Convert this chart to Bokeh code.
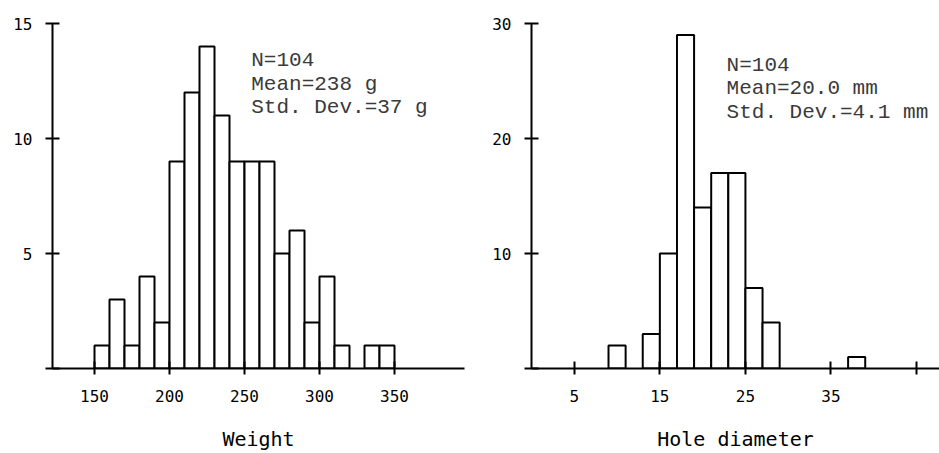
from bokeh.plotting import figure
from bokeh.models import FixedTicker, Range1d, Label
from bokeh.layouts import row
from bokeh.embed import file_html
from bokeh.resources import INLINE

# ---- data ----
weight_bin_left = [150, 160, 170, 180, 190, 200, 210, 220, 230, 240,
                   250, 260, 270, 280, 290, 300, 310, 320, 330, 340]
weight_counts = [1, 3, 1, 4, 2, 9, 12, 14, 11, 9,
                 9, 9, 5, 6, 2, 4, 1, 0, 1, 1]
weight_bin_width = 10
weight_xticks = [150, 200, 250, 300, 350]
weight_yticks = [0, 5, 10, 15]
weight_stats = ["N=104", "Mean=238 g", "Std. Dev.=37 g"]

hole_bin_left = [9, 11, 13, 15, 17, 19, 21, 23, 25, 27, 29, 31, 33, 35, 37]
hole_counts = [2, 0, 3, 10, 29, 14, 17, 17, 7, 4, 0, 0, 0, 0, 1]
hole_bin_width = 2
hole_xticks = [5, 15, 25, 35, 45]
hole_xtick_labels = {45: ""}
hole_yticks = [0, 10, 20, 30]
hole_stats = ["N=104", "Mean=20.0 mm", "Std. Dev.=4.1 mm"]

TICK_FONT = "DejaVu Sans Mono"
ANN_FONT = "Liberation Mono"


def make_hist(bin_left, counts, width, xr, yr, xticks, yticks, xlabel,
              stats, stat_x, stat_ys, fig_w, border_l, border_r, x_over=None):
    p = figure(width=fig_w, height=453, output_backend="svg", toolbar_location=None,
               x_range=Range1d(*xr), y_range=Range1d(*yr),
               min_border_left=border_l, min_border_right=border_r,
               min_border_top=23, min_border_bottom=84)
    p.outline_line_color = None
    p.grid.visible = False
    p.background_fill_color = "white"
    p.border_fill_color = "white"

    lefts = [l for l, c in zip(bin_left, counts) if c > 0]
    tops = [c for c in counts if c > 0]
    rights = [l + width for l in lefts]
    p.quad(left=lefts, right=rights, bottom=0, top=tops,
           fill_color="white", line_color="black", line_width=2)

    ax = p.xaxis[0]
    ax.ticker = FixedTicker(ticks=xticks)
    ax.minor_tick_line_color = None
    ax.major_tick_in = 7
    ax.major_tick_out = 6
    ax.axis_line_width = 2
    ax.major_tick_line_width = 2
    ax.major_label_text_font = TICK_FONT
    ax.major_label_text_font_size = "16px"
    ax.major_label_text_color = "black"
    ax.major_label_standoff = 15
    ax.axis_label = xlabel
    ax.axis_label_text_font = TICK_FONT
    ax.axis_label_text_font_size = "20px"
    ax.axis_label_text_font_style = "normal"
    ax.axis_label_text_color = "black"
    ax.axis_label_standoff = 22
    if x_over:
        ax.major_label_overrides = x_over

    ay = p.yaxis[0]
    ay.ticker = FixedTicker(ticks=yticks)
    ay.minor_tick_line_color = None
    ay.major_tick_in = 7
    ay.major_tick_out = 7
    ay.axis_line_width = 2
    ay.major_tick_line_width = 2
    ay.major_label_text_font = TICK_FONT
    ay.major_label_text_font_size = "16px"
    ay.major_label_text_color = "black"
    ay.major_label_standoff = 13
    ay.major_label_overrides = {0: ""}

    for txt, yv in zip(stats, stat_ys):
        p.add_layout(Label(x=stat_x, y=yv, text=txt, text_font=ANN_FONT,
                           text_font_size="21px", text_color="#3a3a3a",
                           text_baseline="alphabetic", text_align="left"))
    return p


p1 = make_hist(weight_bin_left, weight_counts, weight_bin_width,
               (122, 122 + 412 / 1.5), (0, 15), weight_xticks, weight_yticks,
               "Weight", weight_stats, 254.5, [13.39, 12.36, 11.35],
               470, 52, 6)
p2 = make_hist(hole_bin_left, hole_counts, hole_bin_width,
               (0, 47.68), (0, 30), hole_xticks, hole_yticks,
               "Hole diameter", hole_stats, 22.8, [26.36, 24.34, 22.3],
               469, 61, 0, x_over=hole_xtick_labels)

layout = row(p1, p2, spacing=0)
layout.margin = 0

open("out.html", "w").write(file_html(layout, INLINE))
